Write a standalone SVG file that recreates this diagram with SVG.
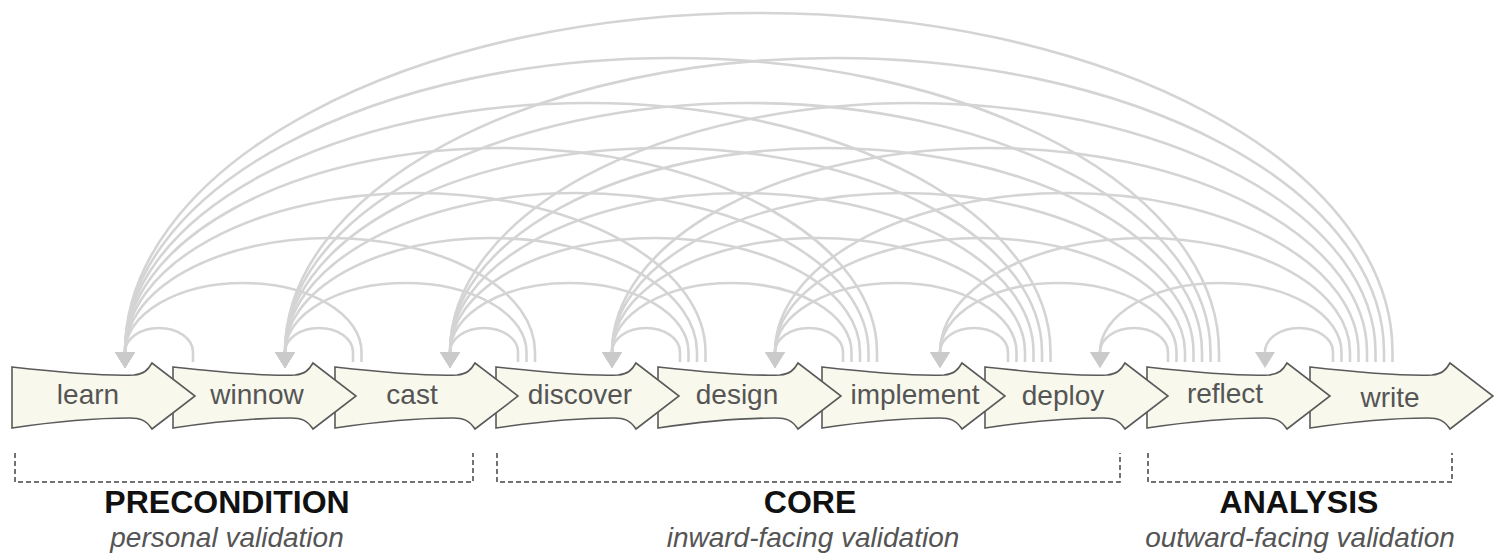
<svg xmlns="http://www.w3.org/2000/svg" width="1497" height="555" viewBox="0 0 1497 555">
<style>
.arc{fill:none;stroke:#d4d4d4;stroke-width:2.6;marker-end:url(#ah)}
.node{fill:#f8f8ec;stroke:#5a5a5a;stroke-width:1.6;stroke-linejoin:miter}
.lbl{font-family:"Liberation Sans",Arial,sans-serif;font-size:28px;fill:#555;text-anchor:middle}
.brk{fill:none;stroke:#444;stroke-width:1.5;stroke-dasharray:5 3}
.ttl{font-family:"Liberation Sans",Arial,sans-serif;font-size:32px;font-weight:bold;fill:#111;text-anchor:middle}
.sub{font-family:"Liberation Sans",Arial,sans-serif;font-size:28px;font-style:italic;fill:#555;text-anchor:middle}
</style>
<defs>
<marker id="ah" viewBox="0 0 16 20" markerWidth="16" markerHeight="20" refX="0" refY="10" orient="auto" markerUnits="userSpaceOnUse">
<path d="M0,0 L16,10 L0,20 z" fill="#cacaca"/>
</marker>
<path id="chev" d="M0,367 C45,372 95,376 122,375 C132,374 136,370 140,363 L183,396 L140,429 C134,420 128,418 118,418 C80,418 40,422 0,428 Z"/>
</defs>
<rect width="1497" height="555" fill="#fff"/>
<g id="connectors">
<path class="arc" d="M193,362 L193,352 A34,24 0 0 0 125,352"/>
<path class="arc" d="M353,362 L353,352 A34,24 0 0 0 285,352"/>
<path class="arc" d="M361.5,362 L361.5,352 A118.25,69 0 0 0 125,352"/>
<path class="arc" d="M518,362 L518,352 A34,24 0 0 0 450,352"/>
<path class="arc" d="M526.5,362 L526.5,352 A120.75,69 0 0 0 285,352"/>
<path class="arc" d="M535,362 L535,352 A205,114 0 0 0 125,352"/>
<path class="arc" d="M680,362 L680,352 A34,24 0 0 0 612,352"/>
<path class="arc" d="M688.5,362 L688.5,352 A119.25,69 0 0 0 450,352"/>
<path class="arc" d="M697,362 L697,352 A206,114 0 0 0 285,352"/>
<path class="arc" d="M705.5,362 L705.5,352 A290.25,159 0 0 0 125,352"/>
<path class="arc" d="M843,362 L843,352 A34,24 0 0 0 775,352"/>
<path class="arc" d="M851.5,362 L851.5,352 A119.75,69 0 0 0 612,352"/>
<path class="arc" d="M860,362 L860,352 A205,114 0 0 0 450,352"/>
<path class="arc" d="M868.5,362 L868.5,352 A291.75,159 0 0 0 285,352"/>
<path class="arc" d="M877,362 L877,352 A376,204 0 0 0 125,352"/>
<path class="arc" d="M1008,362 L1008,352 A34,24 0 0 0 940,352"/>
<path class="arc" d="M1016.5,362 L1016.5,352 A120.75,69 0 0 0 775,352"/>
<path class="arc" d="M1025,362 L1025,352 A206.5,114 0 0 0 612,352"/>
<path class="arc" d="M1033.5,362 L1033.5,352 A291.75,159 0 0 0 450,352"/>
<path class="arc" d="M1042,362 L1042,352 A378.5,204 0 0 0 285,352"/>
<path class="arc" d="M1050.5,362 L1050.5,352 A462.75,249 0 0 0 125,352"/>
<path class="arc" d="M1168,362 L1168,352 A34,24 0 0 0 1100,352"/>
<path class="arc" d="M1176.5,362 L1176.5,352 A118.25,69 0 0 0 940,352"/>
<path class="arc" d="M1185,362 L1185,352 A205,114 0 0 0 775,352"/>
<path class="arc" d="M1193.5,362 L1193.5,352 A290.75,159 0 0 0 612,352"/>
<path class="arc" d="M1202,362 L1202,352 A376,204 0 0 0 450,352"/>
<path class="arc" d="M1210.5,362 L1210.5,352 A462.75,249 0 0 0 285,352"/>
<path class="arc" d="M1219,362 L1219,352 A547,294 0 0 0 125,352"/>
<path class="arc" d="M1333,362 L1333,352 A34,24 0 0 0 1265,352"/>
<path class="arc" d="M1341.5,362 L1341.5,352 A120.75,69 0 0 0 1100,352"/>
<path class="arc" d="M1350,362 L1350,352 A205,114 0 0 0 940,352"/>
<path class="arc" d="M1358.5,362 L1358.5,352 A291.75,159 0 0 0 775,352"/>
<path class="arc" d="M1367,362 L1367,352 A377.5,204 0 0 0 612,352"/>
<path class="arc" d="M1375.5,362 L1375.5,352 A462.75,249 0 0 0 450,352"/>
<path class="arc" d="M1384,362 L1384,352 A549.5,294 0 0 0 285,352"/>
<path class="arc" d="M1392.5,362 L1392.5,352 A633.75,339 0 0 0 125,352"/>
</g>
<g id="node-write"><use href="#chev" class="node" x="1310"/><text class="lbl" x="1390" y="407">write</text></g>
<g id="node-reflect"><use href="#chev" class="node" x="1147"/><text class="lbl" x="1225" y="403">reflect</text></g>
<g id="node-deploy"><use href="#chev" class="node" x="985"/><text class="lbl" x="1063" y="405">deploy</text></g>
<g id="node-implement"><use href="#chev" class="node" x="822"/><text class="lbl" x="915" y="404">implement</text></g>
<g id="node-design"><use href="#chev" class="node" x="658"/><text class="lbl" x="737" y="404">design</text></g>
<g id="node-discover"><use href="#chev" class="node" x="496"/><text class="lbl" x="580" y="404">discover</text></g>
<g id="node-cast"><use href="#chev" class="node" x="335"/><text class="lbl" x="412" y="404">cast</text></g>
<g id="node-winnow"><use href="#chev" class="node" x="173"/><text class="lbl" x="257" y="404">winnow</text></g>
<g id="node-learn"><use href="#chev" class="node" x="12"/><text class="lbl" x="88" y="404">learn</text></g>
<g id="group-precondition">
<path class="brk" d="M15,453 L15,482 L473,482 L473,453"/>
<text class="ttl" x="227" y="513">PRECONDITION</text>
<text class="sub" x="227" y="547">personal validation</text>
</g>
<g id="group-core">
<path class="brk" d="M497,453 L497,482 L1120,482 L1120,453"/>
<text class="ttl" x="810" y="513">CORE</text>
<text class="sub" x="813" y="547">inward-facing validation</text>
</g>
<g id="group-analysis">
<path class="brk" d="M1148,453 L1148,482 L1452,482 L1452,453"/>
<text class="ttl" x="1299" y="513">ANALYSIS</text>
<text class="sub" x="1300" y="547">outward-facing validation</text>
</g>
</svg>
